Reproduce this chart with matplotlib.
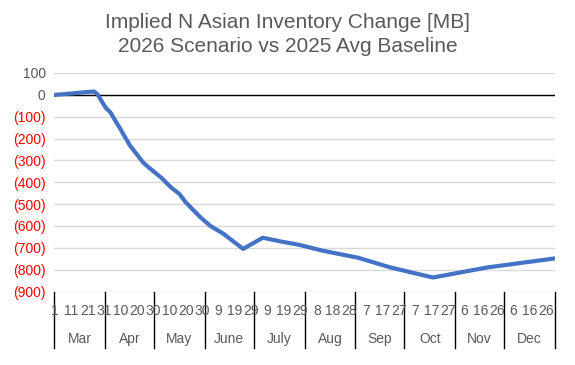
import pandas as pd
import numpy as np
import matplotlib
matplotlib.use('Agg')
import matplotlib.pyplot as plt
from matplotlib.lines import Line2D

plt.rcParams['font.family'] = ['Liberation Sans', 'DejaVu Sans']

# Data (daily category axis, Mar 1 - Dec 31)
start_date = '2026-03-01'
end_date = '2026-12-31'
point_dates = ['2026-03-01', '2026-03-11', '2026-03-19', '2026-03-25', '2026-03-27',
               '2026-04-01', '2026-04-04', '2026-04-10', '2026-04-16', '2026-04-24',
               '2026-04-27', '2026-05-05', '2026-05-11', '2026-05-16', '2026-05-20',
               '2026-05-29', '2026-06-04', '2026-06-12', '2026-06-24', '2026-07-06',
               '2026-07-17', '2026-07-28', '2026-08-12', '2026-09-02', '2026-09-22',
               '2026-10-18', '2026-11-20', '2026-12-31']
inventory_change = [0, 6, 12, 15, 3,
                    -58, -81, -156, -233, -310,
                    -330, -379, -424, -453, -492,
                    -561, -600, -636, -705, -654,
                    -671, -686, -714, -745, -790,
                    -836, -790, -749]
months = ['Mar', 'Apr', 'May', 'June', 'July', 'Aug', 'Sep', 'Oct', 'Nov', 'Dec']
y_ticks = [100, 0, -100, -200, -300, -400, -500, -600, -700, -800, -900]

all_days = pd.date_range(start_date, end_date, freq='D')
t0 = pd.Timestamp(start_date)
x_pts = [(pd.Timestamp(d) - t0).days for d in point_dates]
n_days = len(all_days)

fig = plt.figure(figsize=(5.75, 3.65), dpi=100)
ax = fig.add_axes([54 / 575, 1 - 291.5 / 365, 501 / 575, 218.5 / 365])

ax.plot(x_pts, inventory_change, color='#4472C4', lw=3.0, solid_joinstyle='round', zorder=3)

ax.set_xlim(-0.5, n_days - 0.5)
ax.set_ylim(-900, 100)
ax.set_yticks(y_ticks)
ax.yaxis.grid(True, color='#d9d9d9', lw=1)
ax.set_axisbelow(True)
ax.axhline(0, color='black', lw=1, zorder=2)
for s in ax.spines.values():
    s.set_visible(False)
ax.tick_params(axis='y', length=0, pad=6, labelsize=10)
ax.set_yticklabels(['{:,}'.format(v) if v >= 0 else '({:,})'.format(-v) for v in y_ticks])
for lab, v in zip(ax.get_yticklabels(), y_ticks):
    lab.set_color('#595959' if v >= 0 else '#FF0000')

# day labels every 10 days, month labels below, separators between months
ax.set_xticks([])
trans = ax.get_xaxis_transform()
for i in range(0, n_days, 10):
    ax.text(i, -0.09, str(all_days[i].day), transform=trans, ha='center', va='center',
            fontsize=10, color='#595959')
month_idx = all_days.month
bounds = [0] + [i for i in range(1, n_days) if month_idx[i] != month_idx[i - 1]] + [n_days]
for b in bounds:
    ax.add_line(Line2D([b - 0.5, b - 0.5], [0, -0.26], transform=trans, color='black',
                       lw=1, clip_on=False))
for m, a, b in zip(months, bounds[:-1], bounds[1:]):
    ax.text((a + b - 1) / 2, -0.218, m, transform=trans, ha='center', va='center',
            fontsize=10, color='#595959')

fig.text(0.5, 1 - 23 / 365, 'Implied N Asian Inventory Change [MB]', ha='center', va='center',
         fontsize=15, color='#595959')
fig.text(0.5, 1 - 47 / 365, '2026 Scenario vs 2025 Avg Baseline', ha='center', va='center',
         fontsize=15, color='#595959')

fig.savefig('out.png', dpi=100)
